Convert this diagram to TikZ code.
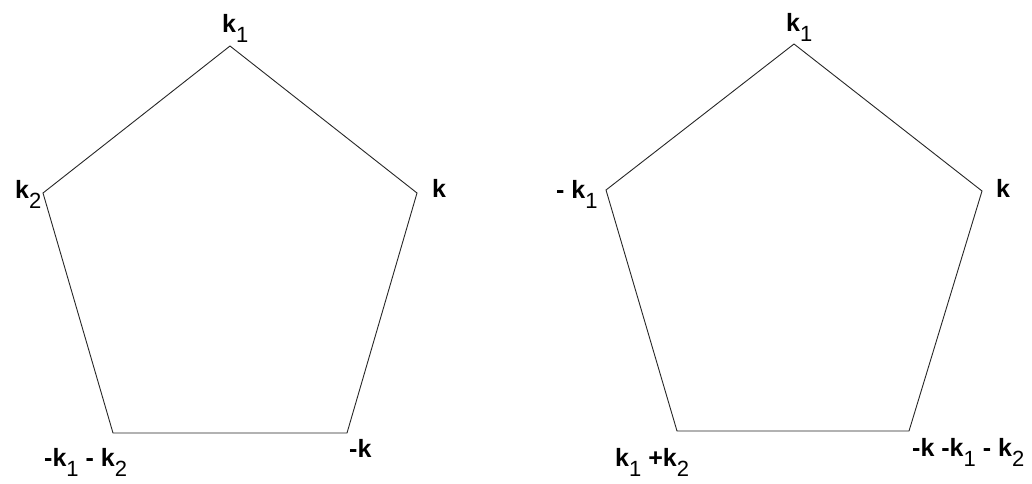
\documentclass[tikz,border=0pt]{standalone}
\usepackage{fontspec}
\setmainfont{Liberation Sans}
\newcommand\ksb[1]{\textbf{k}\raisebox{-10pt}{\fontsize{22}{22}\selectfont #1}}
\tikzset{
  edge/.style={draw=black!85, line width=0.9pt, line join=miter},
  lbl/.style={anchor=base west, inner sep=0pt, font=\fontsize{25}{25}\selectfont},
}
\begin{document}
\begin{tikzpicture}[x=1pt, y=-1pt]
\useasboundingbox (0,0) rectangle (1032,483);
% left pentagon
\coordinate (a1) at (230,46);
\coordinate (a2) at (417,193);
\coordinate (a3) at (347,433);
\coordinate (a4) at (113,433);
\coordinate (a5) at (43,193);
\draw[edge] (a1) -- (a2) -- (a3) -- (a4) -- (a5) -- cycle;
% right pentagon
\coordinate (b1) at (794,44);
\coordinate (b2) at (982,191);
\coordinate (b3) at (909,431);
\coordinate (b4) at (677,431);
\coordinate (b5) at (606,190);
\draw[edge] (b1) -- (b2) -- (b3) -- (b4) -- (b5) -- cycle;
% left labels
\node[lbl] (la1) at (222,32) {\ksb{1}};
\node[lbl] (la5) at (15,198) {\ksb{2}};
\node[lbl] (la2) at (432,197) {\textbf{k}};
\node[lbl] (la3) at (349,457) {\textbf{-k}};
\node[lbl] (la4) at (44,466) {\textbf{-}\ksb{1} \textbf{-} \ksb{2}};
% right labels
\node[lbl] (lb1) at (786,31) {\ksb{1}};
\node[lbl] (lb5) at (556,198) {\textbf{-} \ksb{1}};
\node[lbl] (lb2) at (996,197) {\textbf{k}};
\node[lbl] (lb4) at (615,466) {\ksb{1} \textbf{+}\ksb{2}};
\node[lbl] (lb3) at (912,456) {\textbf{-k -}\ksb{1} \textbf{-} \ksb{2}};
\end{tikzpicture}
\end{document}
